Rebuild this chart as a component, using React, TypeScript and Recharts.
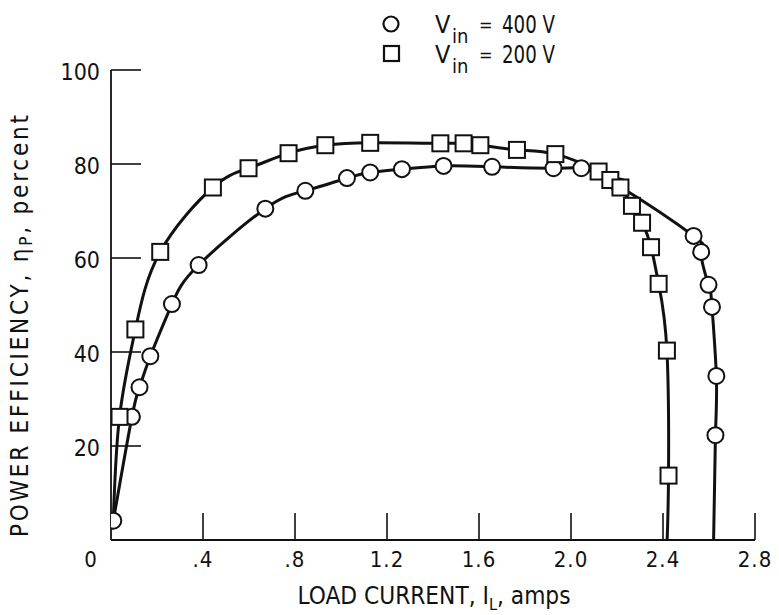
import React from 'react';
import { LineChart, Line, XAxis, YAxis } from 'recharts';

const FONT = "'Liberation Sans Narrow', 'DejaVu Sans Condensed', 'Arial Narrow', sans-serif";
const INK = '#111';

const xTicks = [0, 0.4, 0.8, 1.2, 1.6, 2.0, 2.4, 2.8];
const xTickLabels = ['0', '.4', '.8', '1.2', '1.6', '2.0', '2.4', '2.8'];
const yTicks = [20, 40, 60, 80, 100];

// Vin = 400 V (circles)
const current400 = [0.01, 0.091, 0.124, 0.171, 0.265, 0.381, 0.671, 0.845, 1.026, 1.127, 1.265, 1.446, 1.657, 1.924, 2.045, 2.212, 2.533, 2.566, 2.598, 2.613, 2.632, 2.628, 2.62];
const eff400 = [4.1, 26.2, 32.5, 39.1, 50.2, 58.5, 70.5, 74.3, 77.0, 78.2, 78.9, 79.6, 79.4, 79.1, 79.1, 75.2, 64.7, 61.3, 54.3, 49.6, 34.9, 22.3, 0];
const bare400 = [22];

// Vin = 200 V (squares)
const current200 = [0.01, 0.037, 0.106, 0.214, 0.443, 0.598, 0.772, 0.932, 1.127, 1.432, 1.533, 1.606, 1.765, 1.932, 2.12, 2.171, 2.215, 2.265, 2.309, 2.348, 2.381, 2.417, 2.424, 2.418];
const eff200 = [4.1, 26.2, 44.8, 61.3, 75.0, 79.1, 82.3, 84.0, 84.5, 84.4, 84.4, 84.0, 83.0, 82.1, 78.4, 76.6, 75.0, 71.1, 67.5, 62.3, 54.5, 40.3, 13.7, 0];
const bare200 = [0, 23];

const data400 = current400.map((x, i) => ({ x, y: eff400[i] }));
const data200 = current200.map((x, i) => ({ x, y: eff200[i] }));

const circleDot = (props: any) => {
  const { cx, cy, index } = props;
  if (bare400.includes(index)) return <g key={`c${index}`} />;
  return <circle key={`c${index}`} cx={cx} cy={cy} r={8} fill="#fff" stroke={INK} strokeWidth={2} />;
};

const squareDot = (props: any) => {
  const { cx, cy, index } = props;
  if (bare200.includes(index)) return <g key={`s${index}`} />;
  return <rect key={`s${index}`} x={cx - 8} y={cy - 8} width={16} height={16} fill="#fff" stroke={INK} strokeWidth={2} />;
};

const xTick = (props: any) => {
  const { x, y, payload, index } = props;
  const v = payload.value;
  return (
    <g key={`xt${index}`}>
      {v > 0 && <line x1={x} x2={x} y1={y} y2={y - 27} stroke={INK} strokeWidth={1.6} />}
      <text x={v === 0 ? x - 20 : x} y={y + 27} textAnchor="middle" fontFamily={FONT} fontSize={22} letterSpacing={1} fill={INK}>
        {xTickLabels[index]}
      </text>
    </g>
  );
};

const yTick = (props: any) => {
  const { x, y, payload, index } = props;
  return (
    <g key={`yt${index}`}>
      <line x1={x} x2={x + 30} y1={y} y2={y} stroke={INK} strokeWidth={1.6} />
      <text x={x - 11} y={y + 10} textAnchor="end" fontFamily={FONT} fontSize={23} fill={INK}>
        {payload.value}
      </text>
    </g>
  );
};

export default function App() {
  return (
    <div style={{ position: 'absolute', left: 0, top: 0, width: 779, height: 615, background: '#fff' }}>
      <LineChart width={779} height={615} margin={{ top: 70, right: 24, bottom: 74, left: 110 }}>
        <XAxis
          type="number"
          dataKey="x"
          domain={[0, 2.8]}
          ticks={xTicks}
          tickSize={0}
          tickMargin={0}
          tickLine={false}
          tick={xTick}
          height={1}
          axisLine={{ stroke: INK, strokeWidth: 1.8 }}
          allowDataOverflow
        />
        <YAxis
          type="number"
          dataKey="y"
          domain={[0, 100]}
          ticks={yTicks}
          tickSize={0}
          tickMargin={0}
          tickLine={false}
          tick={yTick}
          width={1}
          axisLine={{ stroke: INK, strokeWidth: 1.8 }}
          allowDataOverflow
        />
        <Line data={data400} dataKey="y" type="natural" stroke={INK} strokeWidth={3} dot={circleDot} activeDot={false} isAnimationActive={false} />
        <Line data={data200} dataKey="y" type="natural" stroke={INK} strokeWidth={3} dot={squareDot} activeDot={false} isAnimationActive={false} />

        {/* axis titles */}
        <text x={434} y={604} textAnchor="middle" fontFamily={FONT} fontSize={24} fill={INK} textLength={273} lengthAdjust="spacingAndGlyphs">
          LOAD CURRENT, I<tspan dy={6} fontSize={16}>L</tspan><tspan dy={-6}>, amps</tspan>
        </text>
        <text x={28} y={326} textAnchor="middle" fontFamily={FONT} fontSize={24} fill={INK} transform="rotate(-90 28 326)" textLength={422} lengthAdjust="spacing">
          POWER EFFICIENCY, η<tspan dy={4} fontSize={17}>P</tspan><tspan dy={-4}>, percent</tspan>
        </text>

        {/* legend */}
        <circle cx={391} cy={24} r={7.5} fill="#fff" stroke={INK} strokeWidth={2.2} />
        <rect x={384} y={46} width={15} height={15} fill="#fff" stroke={INK} strokeWidth={2.2} />
        <text x={435} y={33} fontFamily={FONT} fontSize={25} fill={INK}>V</text>
        <text x={452} y={43} fontFamily={FONT} fontSize={20} fill={INK}>in</text>
        <text x={479} y={31} fontFamily={FONT} fontSize={18} fill={INK}>=</text>
        <text x={502} y={33} fontFamily={FONT} fontSize={25} fill={INK} textLength={53} lengthAdjust="spacingAndGlyphs">400 V</text>
        <text x={435} y={63} fontFamily={FONT} fontSize={25} fill={INK}>V</text>
        <text x={452} y={73} fontFamily={FONT} fontSize={20} fill={INK}>in</text>
        <text x={479} y={61} fontFamily={FONT} fontSize={18} fill={INK}>=</text>
        <text x={502} y={63} fontFamily={FONT} fontSize={25} fill={INK} textLength={53} lengthAdjust="spacingAndGlyphs">200 V</text>
      </LineChart>
    </div>
  );
}
